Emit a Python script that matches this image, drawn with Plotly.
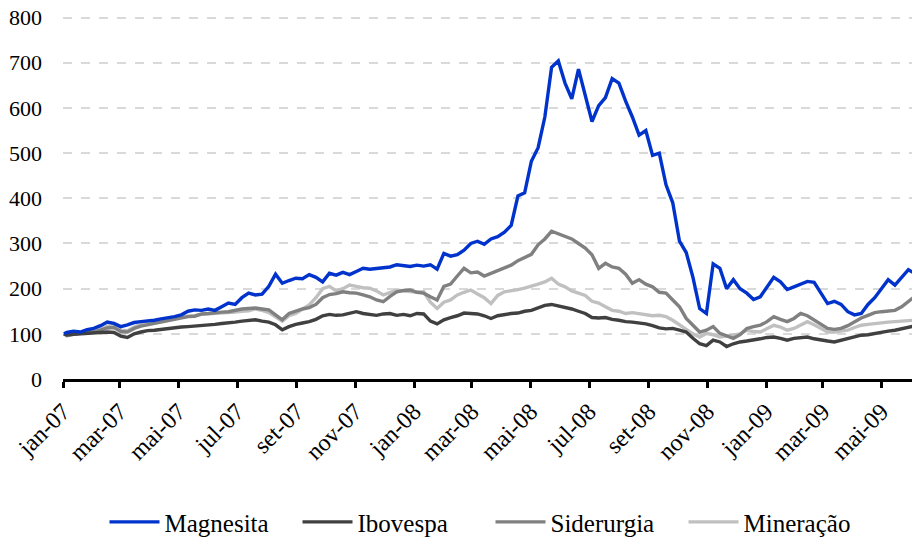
import pandas as pd
import plotly.graph_objects as go

# weekly observations (Fridays) starting 2007-01-05, preceded by base date 2007-01-02 (=100)
base_date = "2007-01-02"
end_date = "2009-06-09"
n_weeks = 127

magnesita = [103,106,104,109,112,118,126,123,116,120,125,127,128,130,133,135,138,142,150,153,
             152,155,152,160,168,165,180,190,186,188,205,232,212,218,223,222,231,225,215,234,
             230,236,231,238,245,243,245,246,248,253,251,249,252,250,253,243,278,272,275,285,
             300,305,298,310,315,325,340,405,412,482,512,580,690,704,655,620,686,625,570,605,
             623,665,655,615,580,540,550,495,500,430,390,305,280,225,156,145,255,245,200,220,
             200,190,176,182,205,225,215,198,204,210,216,214,190,167,172,165,149,142,145,165,
             180,200,220,208,225,242,233]
ibovespa = [98,99,100,101,101,103,104,103,95,92,100,104,107,108,110,111,113,115,116,117,
            119,120,121,123,124,126,128,130,131,128,126,120,109,116,121,124,127,132,140,143,
            141,142,146,149,145,143,141,144,145,141,143,140,145,144,128,122,131,136,140,146,
            145,144,140,134,140,143,145,146,150,152,158,163,165,162,158,155,150,145,136,135,
            136,132,130,127,126,124,122,118,113,111,112,108,104,90,78,74,86,82,72,78,
            82,84,86,89,92,93,90,86,90,92,93,89,86,84,82,86,90,94,97,98,
            101,103,106,108,111,115,118]
siderurgia = [96,99,102,104,104,108,113,114,105,104,112,117,120,123,127,129,133,136,138,139,
              144,145,147,148,149,152,155,156,157,155,153,142,131,145,150,155,158,165,180,187,
              189,193,191,190,186,182,175,171,183,193,196,197,192,190,182,175,205,210,228,245,
              235,237,228,234,240,245,252,262,270,276,297,310,327,322,316,310,300,290,275,245,
              256,248,245,232,212,220,210,204,192,190,175,160,134,119,104,108,116,101,96,90,
              98,112,116,119,127,138,132,127,134,145,140,130,122,112,110,112,118,127,135,141,
              147,149,150,152,160,171,183]
mineracao = [97,100,103,105,106,110,117,119,108,107,115,121,123,125,128,130,133,137,139,140,
             143,144,145,145,146,148,150,151,155,152,147,138,128,140,145,155,164,180,200,205,
             195,200,208,205,202,201,195,186,192,197,195,193,192,193,170,156,170,175,186,192,
             197,188,180,167,185,193,195,198,201,205,210,215,223,210,204,195,190,185,172,168,
             160,152,150,145,147,145,143,140,141,138,130,120,112,100,93,101,98,93,95,97,
             100,108,105,104,112,119,115,108,112,120,127,120,112,104,104,106,108,114,119,121,
             123,124,126,127,128,130,130]
end_values = {"Magnesita": 227, "Ibovespa": 121, "Siderurgia": 190, "Mineração": 131}

tick_dates = ["2007-01-01", "2007-03-01", "2007-05-01", "2007-07-01", "2007-09-01",
              "2007-11-01", "2008-01-01", "2008-03-01", "2008-05-01", "2008-07-01",
              "2008-09-01", "2008-11-01", "2009-01-01", "2009-03-01", "2009-05-01"]
tick_labels = ["jan-07", "mar-07", "mai-07", "jul-07", "set-07", "nov-07", "jan-08",
               "mar-08", "mai-08", "jul-08", "set-08", "nov-08", "jan-09", "mar-09", "mai-09"]
y_ticks = [0, 100, 200, 300, 400, 500, 600, 700, 800]

weekly = pd.date_range("2007-01-05", periods=n_weeks, freq="7D")
dates = [pd.Timestamp(base_date)] + list(weekly) + [pd.Timestamp(end_date)]

series = {
    "Magnesita": (magnesita, "#0033CC", 1),
    "Ibovespa": (ibovespa, "#404040", 2),
    "Siderurgia": (siderurgia, "#808080", 3),
    "Mineração": (mineracao, "#C0C0C0", 4),
}

fig = go.Figure()
# draw order: lighter lines behind
for name in ["Mineração", "Siderurgia", "Ibovespa", "Magnesita"]:
    vals, color, rank = series[name]
    y = [100] + vals + [end_values[name]]
    fig.add_trace(go.Scatter(x=dates, y=y, mode="lines", name=name,
                             line=dict(color=color, width=3.4), legendrank=rank))

font_family = "Liberation Serif"
# the page body adds an 8px offset, so the figure is sized to end at the window edge
fig.update_layout(
    width=912, height=532,
    margin=dict(l=55, r=2, t=6, b=161, autoexpand=False),
    paper_bgcolor="white", plot_bgcolor="white",
    font=dict(family=font_family, size=22, color="black"),
    showlegend=True,
    legend=dict(orientation="h", x=0.5, xanchor="center", y=-0.392, yanchor="middle",
                font=dict(size=25, family=font_family), itemwidth=50,
                entrywidth=128, entrywidthmode="pixels",
                traceorder="normal"),
)
fig.update_xaxes(
    type="date", range=["2007-01-01", "2009-06-08"], automargin=False,
    tickvals=tick_dates, ticktext=tick_labels, tickangle=-45,
    showgrid=False, showline=True, linecolor="black", linewidth=3,
    ticks="outside", ticklen=6, tickwidth=3, tickcolor="black",
    tickfont=dict(size=24, family=font_family), zeroline=False,
)
fig.update_yaxes(
    range=[0, 808], tickvals=y_ticks,
    showgrid=True, gridcolor="#D9D9D9", gridwidth=1.5,
    griddash="dash", zeroline=False, showline=False, ticks="", automargin=False,
    ticklabeloverflow="allow",
    ticklabelstandoff=20, tickfont=dict(size=22, family=font_family),
)
fig.write_html("out.html")
